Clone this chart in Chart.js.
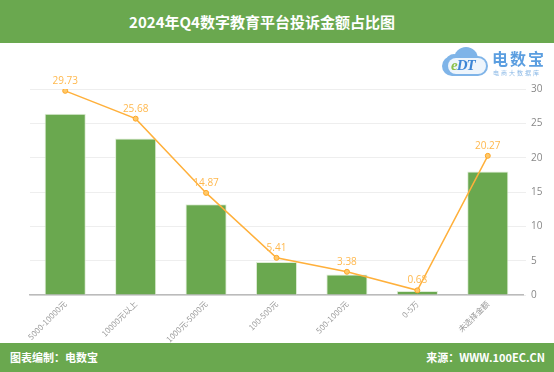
<!DOCTYPE html>
<html>
<head>
<meta charset="utf-8">
<script src="https://cdn.jsdelivr.net/npm/chart.js@4.4.1/dist/chart.umd.min.js"></script>
<style>
  html, body { margin: 0; padding: 0; background: #fff; }
  body { width: 554px; height: 372px; position: relative; overflow: hidden; font-family: "Noto Sans CJK SC", "Noto Sans", sans-serif; }
  #title { position: absolute; left: 0; top: 0; width: 554px; height: 43px; background: #6aa84f; color: #fff;
    font-weight: bold; font-size: 15px; line-height: 43px; text-align: center; text-indent: -30px; }
  #wrap { position: absolute; left: 0; top: 43px; width: 554px; height: 300px; }
  #footer { position: absolute; left: 0; top: 343px; width: 554px; height: 29px; background: #6aa84f; color: #fff;
    font-weight: bold; font-size: 11px; line-height: 29px; }
  #footer .l { position: absolute; left: 10px; }
  #footer .r { position: absolute; right: 9px; }
  #logo { position: absolute; left: 440px; top: 44px; width: 110px; height: 34px; }
  #logo .c1 { position: absolute; left: 2px; top: 12px; width: 46px; height: 20px; border-radius: 10px; background: #7fb4e8; }
  #logo .c2 { position: absolute; left: 14px; top: 3px; width: 24px; height: 24px; border-radius: 12px; background: #7fb4e8; }
  #logo .c3 { position: absolute; left: 6px; top: 10px; width: 16px; height: 16px; border-radius: 8px; background: #7fb4e8; }
  #logo .c4 { position: absolute; left: 8px; top: 14px; width: 38px; height: 16px; border-radius: 8px; background: #eef5fc; }
  #logo .edt { position: absolute; left: 11px; top: 13px; font-family: "Liberation Serif", serif; font-size: 15px; color: #3d86d6; font-style: italic; font-weight: bold; letter-spacing: -1px; }
  #logo .edt b { color: #8cc04a; }
  #logo .t1 { position: absolute; left: 52px; top: 2px; font-size: 16px; color: #5b9ee0; font-weight: bold; letter-spacing: 2px; }
  #logo .t2 { position: absolute; left: 53px; top: 24px; font-size: 6px; color: #8ab8e6; letter-spacing: 2px; }
</style>
</head>
<body>
<div id="title">2024年Q4数字教育平台投诉金额占比图</div>
<div id="wrap"><canvas id="c" width="554" height="300"></canvas></div>
<div id="logo"><div class="c1"></div><div class="c2"></div><div class="c3"></div><div class="c4"></div><div class="edt"><b>e</b>DT</div><div class="t1">电数宝</div><div class="t2">电商大数据库</div></div>
<div id="footer"><span class="l">图表编制：电数宝</span><span class="r">来源：WWW.100EC.CN</span></div>
<script>
const categories = ["5000-10000元", "10000元以上", "1000元-5000元", "100-500元", "500-1000元", "0-5万", "未选择金额"];
const barValues = [26.4, 22.8, 13.2, 4.8, 3.0, 0.6, 18.0];
const lineValues = [29.73, 25.68, 14.87, 5.41, 3.38, 0.68, 20.27];
const yTicks = [0, 5, 10, 15, 20, 25, 30];

const labelPlugin = {
  id: 'lineLabels',
  afterDatasetsDraw(chart) {
    const ctx = chart.ctx;
    const meta = chart.getDatasetMeta(1);
    ctx.save();
    ctx.fillStyle = '#ffb84d';
    ctx.font = '10px "Open Sans", "Noto Sans", sans-serif';
    ctx.textAlign = 'center';
    ctx.textBaseline = 'bottom';
    meta.data.forEach((pt, i) => {
      ctx.fillText(lineValues[i].toFixed(2), pt.x, pt.y - 5);
    });
    ctx.restore();
  }
};

new Chart(document.getElementById('c'), {
  data: {
    labels: categories,
    datasets: [
      {
        type: 'bar',
        data: barValues,
        backgroundColor: '#6aa84f',
        borderColor: 'rgba(220,235,210,0.9)',
        borderWidth: 1,
        categoryPercentage: 0.8,
        barPercentage: 0.73,
        order: 2
      },
      {
        type: 'line',
        data: lineValues,
        borderColor: '#ffb03b',
        borderWidth: 1.5,
        pointRadius: 2.5,
        pointBorderWidth: 1,
        pointBackgroundColor: '#ffc96b',
        pointBorderColor: '#ffa726',
        tension: 0,
        order: 1
      }
    ]
  },
  options: {
    responsive: false,
    animation: false,
    layout: { padding: { top: 46, left: 30, right: 0, bottom: 0 } },
    plugins: { legend: { display: false }, tooltip: { enabled: false } },
    scales: {
      x: {
        grid: { display: false, drawTicks: false },
        border: { display: true, color: '#bbbbbb', width: 1.5 },
        ticks: {
          color: '#999999',
          font: { size: 8, family: '"Noto Sans CJK SC", sans-serif' },
          minRotation: 45, maxRotation: 45, padding: 4, autoSkip: false
        },
        afterFit(scale) { scale.height = 48; }
      },
      y: {
        position: 'right',
        min: 0, max: 30,
        afterBuildTicks(scale) { scale.ticks = yTicks.map(v => ({ value: v })); },
        grid: { color: '#eeeeee', lineWidth: 1, drawTicks: true, tickLength: 3, tickColor: '#eeeeee' },
        border: { display: false },
        ticks: { color: '#888888', font: { size: 10, family: '"Open Sans", sans-serif' }, padding: 5 },
        afterFit(scale) { scale.width = 31; }
      }
    }
  },
  plugins: [labelPlugin]
});
</script>
</body>
</html>
